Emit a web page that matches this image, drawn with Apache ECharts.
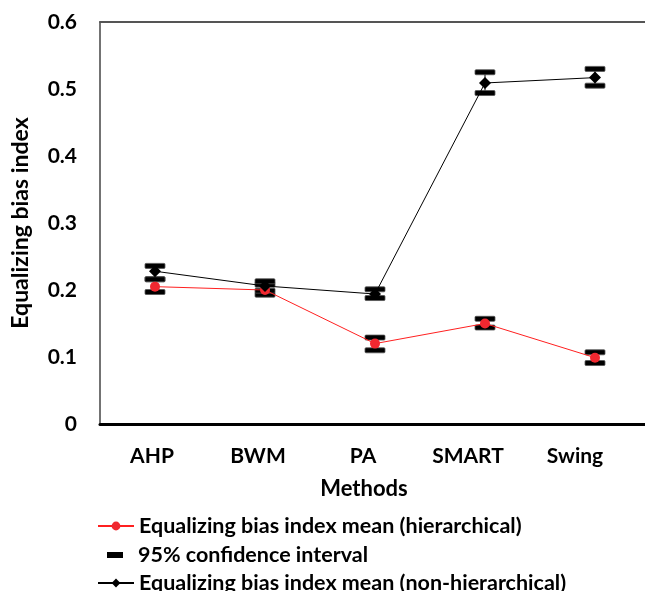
<!DOCTYPE html>
<html>
<head>
<meta charset="utf-8">
<script src="https://cdn.jsdelivr.net/npm/echarts@6/dist/echarts.min.js"></script>
<style>html,body{margin:0;padding:0;background:#fff}#c{width:645px;height:591px}</style>
</head>
<body>
<div id="c"></div>
<script>
var categories = ['AHP', 'BWM', 'PA', 'SMART', 'Swing'];
var hierMean = [0.205, 0.200, 0.120, 0.150, 0.099];
var hierLow  = [0.197, 0.193, 0.110, 0.144, 0.091];
var hierHigh = [0.216, 0.208, 0.129, 0.157, 0.107];
var nonHierMean = [0.228, 0.206, 0.194, 0.509, 0.517];
var nonHierLow  = [0.216, 0.199, 0.188, 0.494, 0.505];
var nonHierHigh = [0.236, 0.213, 0.201, 0.525, 0.530];
var yTicks = [0, 0.1, 0.2, 0.3, 0.4, 0.5, 0.6];

var FONT = 'Lato';
var ciData = [];
for (var i = 0; i < categories.length; i++) {
  ciData.push([i, hierLow[i], hierHigh[i]]);
  ciData.push([i, nonHierLow[i], nonHierHigh[i]]);
}
var labelPad = [6, 14, 24, 34, 40];
var rich = {};
labelPad.forEach(function (p, i) {
  rich['a' + i] = { fontFamily: FONT, fontWeight: 'bold', fontSize: 21, color: '#000', padding: [0, p, 0, 0] };
});
var legendText = { fontFamily: FONT, fontWeight: 'bold', fontSize: 21.5, color: '#000' };

var chart = echarts.init(document.getElementById('c'));
chart.setOption({
  animation: false,
  backgroundColor: '#fff',
  grid: { left: 100, right: -5, top: 22, bottom: 167, outerBoundsMode: 'none', containLabel: false },
  xAxis: [{
    type: 'category',
    data: categories,
    position: 'bottom',
    axisLine: { lineStyle: { color: '#000', width: 3 } },
    axisTick: { show: false },
    axisLabel: {
      margin: 22,
      formatter: function (v, idx) { return '{a' + idx + '|' + v + '}'; },
      rich: rich
    },
    name: 'Methods',
    nameLocation: 'middle',
    nameGap: 54,
    nameTextStyle: { fontFamily: FONT, fontWeight: 'bold', fontSize: 22, color: '#000', padding: [0, 22, 0, 0] }
  }, {
    type: 'category',
    data: categories,
    position: 'top',
    axisLine: { lineStyle: { color: '#555', width: 2 } },
    axisTick: { show: false },
    axisLabel: { show: false }
  }],
  yAxis: {
    type: 'value',
    min: 0, max: 0.6, interval: 0.1,
    axisLine: { show: true, lineStyle: { color: '#444', width: 1.5 } },
    axisTick: { show: false },
    splitLine: { show: false },
    axisLabel: {
      margin: 23,
      fontFamily: FONT, fontWeight: 'bold', fontSize: 21, color: '#000',
      formatter: function (v) { return String(Math.round(v * 10) / 10); }
    },
    name: 'Equalizing bias index',
    nameLocation: 'middle',
    nameRotate: 90,
    nameGap: 68,
    nameTextStyle: { fontFamily: FONT, fontWeight: 'bold', fontSize: 23, color: '#000' }
  },
  legend: [{
    data: ['Equalizing bias index mean (hierarchical)'],
    left: 92, top: 510, itemWidth: 36, itemHeight: 11, itemGap: 0,
    textStyle: legendText
  }, {
    data: [{ name: '95% confidence interval', icon: 'rect' }],
    left: 102, top: 539, itemWidth: 16, itemHeight: 6,
    textStyle: Object.assign({}, legendText, { padding: [0, 0, 0, 10] })
  }, {
    data: ['Equalizing bias index mean (non-hierarchical)'],
    left: 92, top: 567, itemWidth: 36, itemHeight: 11,
    textStyle: legendText
  }],
  series: [{
    name: 'Equalizing bias index mean (hierarchical)',
    type: 'line',
    data: hierMean,
    symbol: 'circle',
    symbolSize: 10,
    lineStyle: { color: '#ff2020', width: 1 },
    itemStyle: { color: '#f02830' },
    z: 3
  }, {
    name: '95% confidence interval',
    type: 'custom',
    data: ciData,
    itemStyle: { color: '#000' },
    renderItem: function (params, api) {
      var x = api.value(0);
      var lo = api.coord([x, api.value(1)]);
      var hi = api.coord([x, api.value(2)]);
      var w = 20, h = 5;
      return {
        type: 'group',
        children: [{
          type: 'line',
          shape: { x1: lo[0], y1: lo[1], x2: hi[0], y2: hi[1] },
          style: { stroke: '#000', lineWidth: 1 }
        }, {
          type: 'rect',
          shape: { x: hi[0] - w / 2, y: hi[1] - h / 2, width: w, height: h, r: 1 },
          style: { fill: '#000', stroke: '#555', lineWidth: 0.8 }
        }, {
          type: 'rect',
          shape: { x: lo[0] - w / 2, y: lo[1] - h / 2, width: w, height: h, r: 1 },
          style: { fill: '#000', stroke: '#555', lineWidth: 0.8 }
        }]
      };
    },
    z: 2
  }, {
    name: 'Equalizing bias index mean (non-hierarchical)',
    type: 'line',
    data: nonHierMean,
    symbol: 'diamond',
    symbolSize: 12,
    lineStyle: { color: '#000', width: 1 },
    itemStyle: { color: '#000' },
    z: 3
  }]
});
</script>
</body>
</html>
